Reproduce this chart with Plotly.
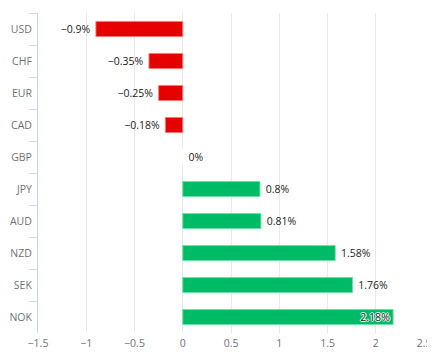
import plotly.graph_objects as go

currencies = ["USD", "CHF", "EUR", "CAD", "GBP", "JPY", "AUD", "NZD", "SEK", "NOK"]
changes = [-0.9, -0.35, -0.25, -0.18, 0, 0.8, 0.81, 1.58, 1.76, 2.18]
x_ticks = [-1.5, -1, -0.5, 0, 0.5, 1, 1.5, 2, 2.5]
x_tick_labels = ["\u22121.5", "\u22121", "\u22120.5", "0", "0.5", "1", "1.5", "2", "2.5"]

RED = "#e60000"
GREEN = "#00bb66"

colors = [RED if v < 0 else GREEN for v in changes]
line_colors = ["rgba(255,120,120,0.9)" if v < 0 else ("rgba(255,255,255,1)" if v == 0 else "rgba(100,230,160,0.9)") for v in changes]
positions = ["inside" if v > 2 else "outside" for v in changes]
labels = []
for v, p in zip(changes, positions):
    s = ("\u2212" if v < 0 else "") + f"{abs(v):g}%"
    if p == "outside":
        s = s + "\u00a0" if v < 0 else "\u00a0" + s
    labels.append(s)

fig = go.Figure(
    go.Bar(
        x=changes,
        y=currencies,
        orientation="h",
        marker=dict(color=colors, line=dict(color=line_colors, width=1)),
        text=labels,
        textposition=positions,
        insidetextanchor="end",
        constraintext="none",
        textangle=0,
        cliponaxis=False,
        outsidetextfont=dict(family="Open Sans, sans-serif", size=10.5, color="#222222"),
        insidetextfont=dict(
            family="Open Sans, sans-serif",
            size=10.5,
            color="#222222",
            shadow="1px 0 0 #fff, -1px 0 0 #fff, 0 1px 0 #fff, 0 -1px 0 #fff",
        ),
        hoverinfo="skip",
    )
)

fig.update_layout(
    width=427,
    height=351,
    margin=dict(l=30, r=11, t=5, b=26),
    paper_bgcolor="white",
    plot_bgcolor="white",
    bargap=0.53,
    showlegend=False,
    font=dict(family="Open Sans, sans-serif", size=10.5, color="#6e7079"),
)

fig.update_xaxes(
    range=[-1.5, 2.5],
    tickvals=x_ticks,
    ticktext=x_tick_labels,
    showgrid=True,
    gridcolor="#e9e9ec",
    gridwidth=1,
    zeroline=False,
    showline=False,
    ticks="",
    automargin=False,
    tickfont=dict(size=10.5, color="#6e7079"),
    ticklabelstandoff=2,
)

fig.update_yaxes(
    categoryorder="array",
    categoryarray=currencies,
    autorange="reversed",
    showgrid=False,
    zeroline=False,
    showline=True,
    linecolor="#ccd6eb",
    linewidth=1,
    ticks="outside",
    tickson="boundaries",
    ticklen=8,
    tickcolor="#ccd6eb",
    automargin=False,
    tickfont=dict(size=10.5, color="#6e7079"),
    ticklabelstandoff=3,
)

fig.write_html("out.html")
